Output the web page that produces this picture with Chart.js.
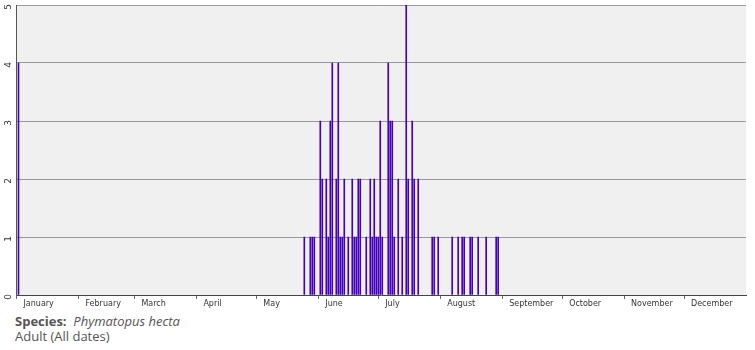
<!DOCTYPE html>
<html>
<head>
<meta charset="utf-8">
<script src="https://cdn.jsdelivr.net/npm/chart.js@4"></script>
<style>
  body { margin: 0; background: #fff; }
  #wrap { position: absolute; left: 0; top: 0; width: 755px; height: 310px; }
  #info { position: absolute; left: 15px; top: 314px; font-family: "Open Sans", sans-serif; font-size: 13px; color: #555; line-height: 15px; }
  #info b { color: #555; }
</style>
</head>
<body>
<div id="wrap"><canvas id="chart" width="755" height="310"></canvas></div>
<div id="info">
  <div><b>Species:</b>&nbsp; <i>Phymatopus hecta</i></div>
  <div>Adult (All dates)</div>
</div>
<script>
// 日 (1月1日 = 1) と記録数
const days = [1, 144, 147, 148, 149, 152, 153, 155, 156, 157, 158, 160, 161, 162, 163, 164, 166, 168, 169, 170,
  171, 172, 175, 177, 178, 179, 180, 181, 182, 183, 186, 187, 188, 189, 191, 193, 195, 196, 198, 199,
  201, 208, 209, 211, 218, 221, 223, 224, 227, 228, 231, 235, 240, 241];
const counts = [4, 1, 1, 1, 1, 3, 2, 2, 1, 3, 4, 2, 4, 1, 1, 2, 1, 2, 1, 1,
  2, 2, 1, 2, 1, 2, 1, 1, 3, 1, 4, 3, 3, 1, 2, 1, 5, 2, 3, 2,
  2, 1, 1, 1, 1, 1, 1, 1, 1, 1, 1, 1, 1, 1];

const monthNames = ['January', 'February', 'March', 'April', 'May', 'June',
  'July', 'August', 'September', 'October', 'November', 'December'];
const monthStarts = [0, 31, 59, 90, 120, 151, 181, 212, 243, 273, 304, 334];
const yTicks = [0, 1, 2, 3, 4, 5];

// 背景と縦軸ラベル(回転)
const plotDecor = {
  id: 'plotDecor',
  beforeDraw(chart) {
    const { ctx, chartArea: a } = chart;
    ctx.save();
    ctx.fillStyle = '#f0f0f0';
    ctx.fillRect(a.left, a.top, a.right - a.left, a.bottom - a.top);
    ctx.restore();
  },
  afterDraw(chart) {
    const { ctx } = chart;
    const ys = chart.scales.y;
    ctx.save();
    ctx.fillStyle = '#333';
    ctx.font = '9px "DejaVu Sans"';
    ctx.textAlign = 'center';
    ctx.textBaseline = 'middle';
    yTicks.forEach(v => {
      const y = ys.getPixelForValue(v);
      ctx.save();
      ctx.translate(9, y + 2);
      ctx.rotate(-Math.PI / 2);
      ctx.fillText(String(v), 0, 0);
      ctx.restore();
    });
    ctx.restore();
  }
};

new Chart(document.getElementById('chart'), {
  type: 'bar',
  data: {
    datasets: [{
      data: days.map((d, i) => ({ x: d, y: counts[i] })),
      backgroundColor: '#4400bb',
      borderWidth: 0,
      barThickness: 1
    }]
  },
  options: {
    responsive: false,
    animation: false,
    layout: { padding: { top: 5, right: 9, left: 0, bottom: 0 } },
    plugins: { legend: { display: false }, tooltip: { enabled: false } },
    scales: {
      x: {
        type: 'linear',
        min: 0,
        max: 365,
        offset: false,
        afterBuildTicks(scale) {
          scale.ticks = monthStarts.map(v => ({ value: v }));
        },
        afterFit(scale) {
          scale.height = 15;
          scale.paddingLeft = 0;
          scale.paddingRight = 0;
        },
        ticks: {
          callback: (v) => monthNames[monthStarts.indexOf(v)],
          align: 'start',
          labelOffset: 7,
          padding: 0,
          autoSkip: false,
          maxRotation: 0,
          color: '#333',
          font: { family: 'DejaVu Sans', size: 8 }
        },
        grid: { offset: false, drawOnChartArea: false, tickLength: 4, color: '#666' },
        border: { display: true, color: '#444', dash: [1, 1] }
      },
      y: {
        min: 0,
        max: 5,
        afterBuildTicks(scale) {
          scale.ticks = yTicks.map(v => ({ value: v }));
        },
        afterFit(scale) { scale.width = 16.5; },
        ticks: { display: false },
        grid: {
          drawTicks: false,
          color: (c) => c.tick && c.tick.value === 0 ? 'rgba(0,0,0,0)' : '#999'
        },
        border: { display: true, color: '#555' }
      }
    }
  },
  plugins: [plotDecor]
});
</script>
</body>
</html>
